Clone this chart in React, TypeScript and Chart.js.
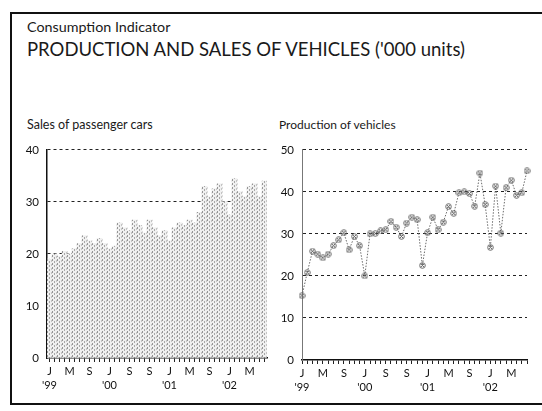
import React, { useEffect, useRef } from 'react';
import { Chart, registerables } from 'chart.js';

Chart.register(...registerables);

// Monthly categories: Jan 1999 - Aug 2002
const months: string[] = [
  'Jan 99', 'Feb 99', 'Mar 99', 'Apr 99', 'May 99', 'Jun 99', 'Jul 99', 'Aug 99', 'Sep 99', 'Oct 99', 'Nov 99', 'Dec 99',
  'Jan 00', 'Feb 00', 'Mar 00', 'Apr 00', 'May 00', 'Jun 00', 'Jul 00', 'Aug 00', 'Sep 00', 'Oct 00', 'Nov 00', 'Dec 00',
  'Jan 01', 'Feb 01', 'Mar 01', 'Apr 01', 'May 01', 'Jun 01', 'Jul 01', 'Aug 01', 'Sep 01', 'Oct 01', 'Nov 01', 'Dec 01',
  'Jan 02', 'Feb 02', 'Mar 02', 'Apr 02', 'May 02', 'Jun 02', 'Jul 02', 'Aug 02',
];

// Sales of passenger cars ('000 units)
const salesValues: number[] = [
  19, 20, 19.5, 20.5, 20, 21, 22, 23.5, 22.5, 22, 23, 22,
  21, 21.5, 26, 25, 24.5, 26.5, 25.5, 24, 26.5, 25, 23.5, 24.5,
  22.5, 25, 26, 25.5, 26.5, 26, 28, 33, 31, 32.5, 33.5, 30,
  27.5, 34.5, 32, 31, 33, 33.5, 31, 34,
];

// Production of vehicles ('000 units)
const productionValues: number[] = [
  15.3, 20.8, 25.9, 25.2, 24.3, 25.2, 27.2, 28.6, 30.3, 26.2, 29.4, 27.2,
  20, 30, 30.1, 30.7, 31, 33, 31.6, 29.4, 32.6, 34, 33.4, 22.5,
  30.3, 34, 31, 32.8, 36.5, 34.9, 39.8, 40, 39.6, 36.6, 44.5, 37,
  26.8, 41.4, 30.2, 41, 42.8, 39.2, 39.8, 45,
];

// Axis tick labels
const tickIndexes: number[] = [0, 4, 8, 12, 16, 20, 24, 28, 32, 36, 40];
const tickLetters: string[] = ['J', 'M', 'S', 'J', 'S', 'S', 'J', 'M', 'S', 'J', 'M'];
const tickYears: string[] = ["'99", '', '', "'00", '', '', "'01", '', '', "'02", ''];
const salesYTicks: number[] = [0, 10, 20, 30, 40];
const productionYTicks: number[] = [0, 10, 20, 30, 40, 50];

const FONT = 'Lato, "Open Sans", sans-serif';

function xTickLabel(index: number): string | string[] {
  const k = tickIndexes.indexOf(index);
  if (k < 0) return '';
  return tickYears[k] ? [tickLetters[k], tickYears[k]] : tickLetters[k];
}

function makeBarPattern(): CanvasPattern | string {
  const c = document.createElement('canvas');
  c.width = 5;
  c.height = 4;
  const g = c.getContext('2d');
  if (!g) return '#d8d8d8';
  g.fillStyle = '#f0f0f0';
  g.fillRect(0, 0, 5, 4);
  g.fillStyle = '#959595';
  g.fillRect(0, 0, 1, 2);
  g.fillStyle = '#a8a8a8';
  g.fillRect(2, 2, 1, 2);
  g.fillStyle = '#c4c4c4';
  g.fillRect(4, 1, 1, 2);
  const p = g.createPattern(c, 'repeat');
  return p || '#d8d8d8';
}

function makeMarker(): HTMLCanvasElement {
  const c = document.createElement('canvas');
  c.width = 7;
  c.height = 7;
  const g = c.getContext('2d');
  if (g) {
    g.strokeStyle = '#666';
    g.lineWidth = 1;
    g.beginPath();
    g.arc(3.5, 3.5, 2.8, 0, Math.PI * 2);
    g.stroke();
    g.beginPath();
    g.moveTo(1.8, 1.8);
    g.lineTo(5.2, 5.2);
    g.moveTo(5.2, 1.8);
    g.lineTo(1.8, 5.2);
    g.stroke();
  }
  return c;
}

const gridColor = (ctx: any) => (ctx.tick && ctx.tick.value === 0 ? 'rgba(0,0,0,0)' : '#222');

function xScale(offset: boolean) {
  return {
    offset,
    border: { display: true, color: '#111', width: 1.5 },
    grid: { display: true, drawOnChartArea: false, drawTicks: true, tickLength: 4, color: '#222', offset: false },
    ticks: {
      autoSkip: false,
      maxRotation: 0,
      padding: 2,
      color: '#111',
      font: { family: FONT, size: 11, lineHeight: 1.3 },
      callback: (_v: any, i: number) => xTickLabel(i),
    },
    afterFit: (s: any) => { s.height = 40; },
  };
}

function SalesChart() {
  const ref = useRef<HTMLCanvasElement>(null);
  useEffect(() => {
    if (!ref.current) return;
    const chart = new Chart(ref.current, {
      type: 'bar',
      data: {
        labels: months,
        datasets: [
          {
            data: salesValues,
            backgroundColor: makeBarPattern() as any,
            borderWidth: 0,
            barPercentage: 1,
            categoryPercentage: 1,
          },
        ],
      },
      options: {
        responsive: false,
        animation: false,
        events: [],
        layout: { padding: { left: 0, right: 10, top: 12, bottom: 7 } },
        plugins: { legend: { display: false }, tooltip: { enabled: false } },
        scales: {
          x: xScale(true),
          y: {
            min: 0,
            max: 40,
            afterBuildTicks: (s: any) => { s.ticks = salesYTicks.map((v) => ({ value: v })); },
            border: { display: true, color: '#111', width: 1.5, dash: [3, 3] },
            grid: { drawTicks: false, color: gridColor, lineWidth: 1 },
            ticks: { padding: 8, color: '#111', font: { family: FONT, size: 11.5 } },
            afterFit: (s: any) => { s.width = 35; },
          },
        },
      },
    } as any);
    return () => chart.destroy();
  }, []);
  return <canvas ref={ref} width={265} height={270} style={{ position: 'absolute', left: 12, top: 135 }} />;
}

function ProductionChart() {
  const ref = useRef<HTMLCanvasElement>(null);
  useEffect(() => {
    if (!ref.current) return;
    const marker = makeMarker();
    const chart = new Chart(ref.current, {
      type: 'line',
      data: {
        labels: months,
        datasets: [
          {
            data: productionValues,
            borderColor: '#6a6a6a',
            borderWidth: 1,
            borderDash: [1.5, 1.5],
            pointStyle: marker,
            pointRadius: 3.5,
            tension: 0,
            fill: false,
          },
        ],
      },
      options: {
        responsive: false,
        animation: false,
        events: [],
        layout: { padding: { left: 0, right: 15, top: 12, bottom: 5 } },
        plugins: { legend: { display: false }, tooltip: { enabled: false } },
        scales: {
          x: xScale(false),
          y: {
            min: 0,
            max: 50,
            afterBuildTicks: (s: any) => { s.ticks = productionYTicks.map((v) => ({ value: v })); },
            border: { display: true, color: '#777', width: 1, dash: [3, 3] },
            grid: { drawTicks: false, color: gridColor, lineWidth: 1 },
            ticks: { padding: 8, color: '#111', font: { family: FONT, size: 11.5 } },
            afterFit: (s: any) => { s.width = 34; },
          },
        },
      },
    } as any);
    return () => chart.destroy();
  }, []);
  return <canvas ref={ref} width={274} height={270} style={{ position: 'absolute', left: 268, top: 135 }} />;
}

export default function App() {
  return (
    <div
      style={{
        position: 'fixed',
        left: 0,
        top: 0,
        width: 542,
        height: 411,
        background: '#fff',
        overflow: 'hidden',
        fontFamily: FONT,
        color: '#1a1a1a',
      }}
    >
      <div style={{ position: 'absolute', left: 10, top: 12, width: 600, height: 389, border: '2px solid #111' }} />
      <div style={{ position: 'absolute', left: 27, top: 20, fontSize: 14.3, lineHeight: 1, whiteSpace: 'nowrap' }}>
        Consumption Indicator
      </div>
      <div style={{ position: 'absolute', left: 27, top: 40, fontSize: 18.5, lineHeight: 1, whiteSpace: 'nowrap' }}>
        PRODUCTION AND SALES OF VEHICLES ('000 units)
      </div>
      <div style={{ position: 'absolute', left: 27, top: 119, fontSize: 12.5, lineHeight: 1, whiteSpace: 'nowrap' }}>
        Sales of passenger cars
      </div>
      <div style={{ position: 'absolute', left: 279, top: 119, fontSize: 12, lineHeight: 1, whiteSpace: 'nowrap' }}>
        Production of vehicles
      </div>
      <SalesChart />
      <ProductionChart />
    </div>
  );
}
